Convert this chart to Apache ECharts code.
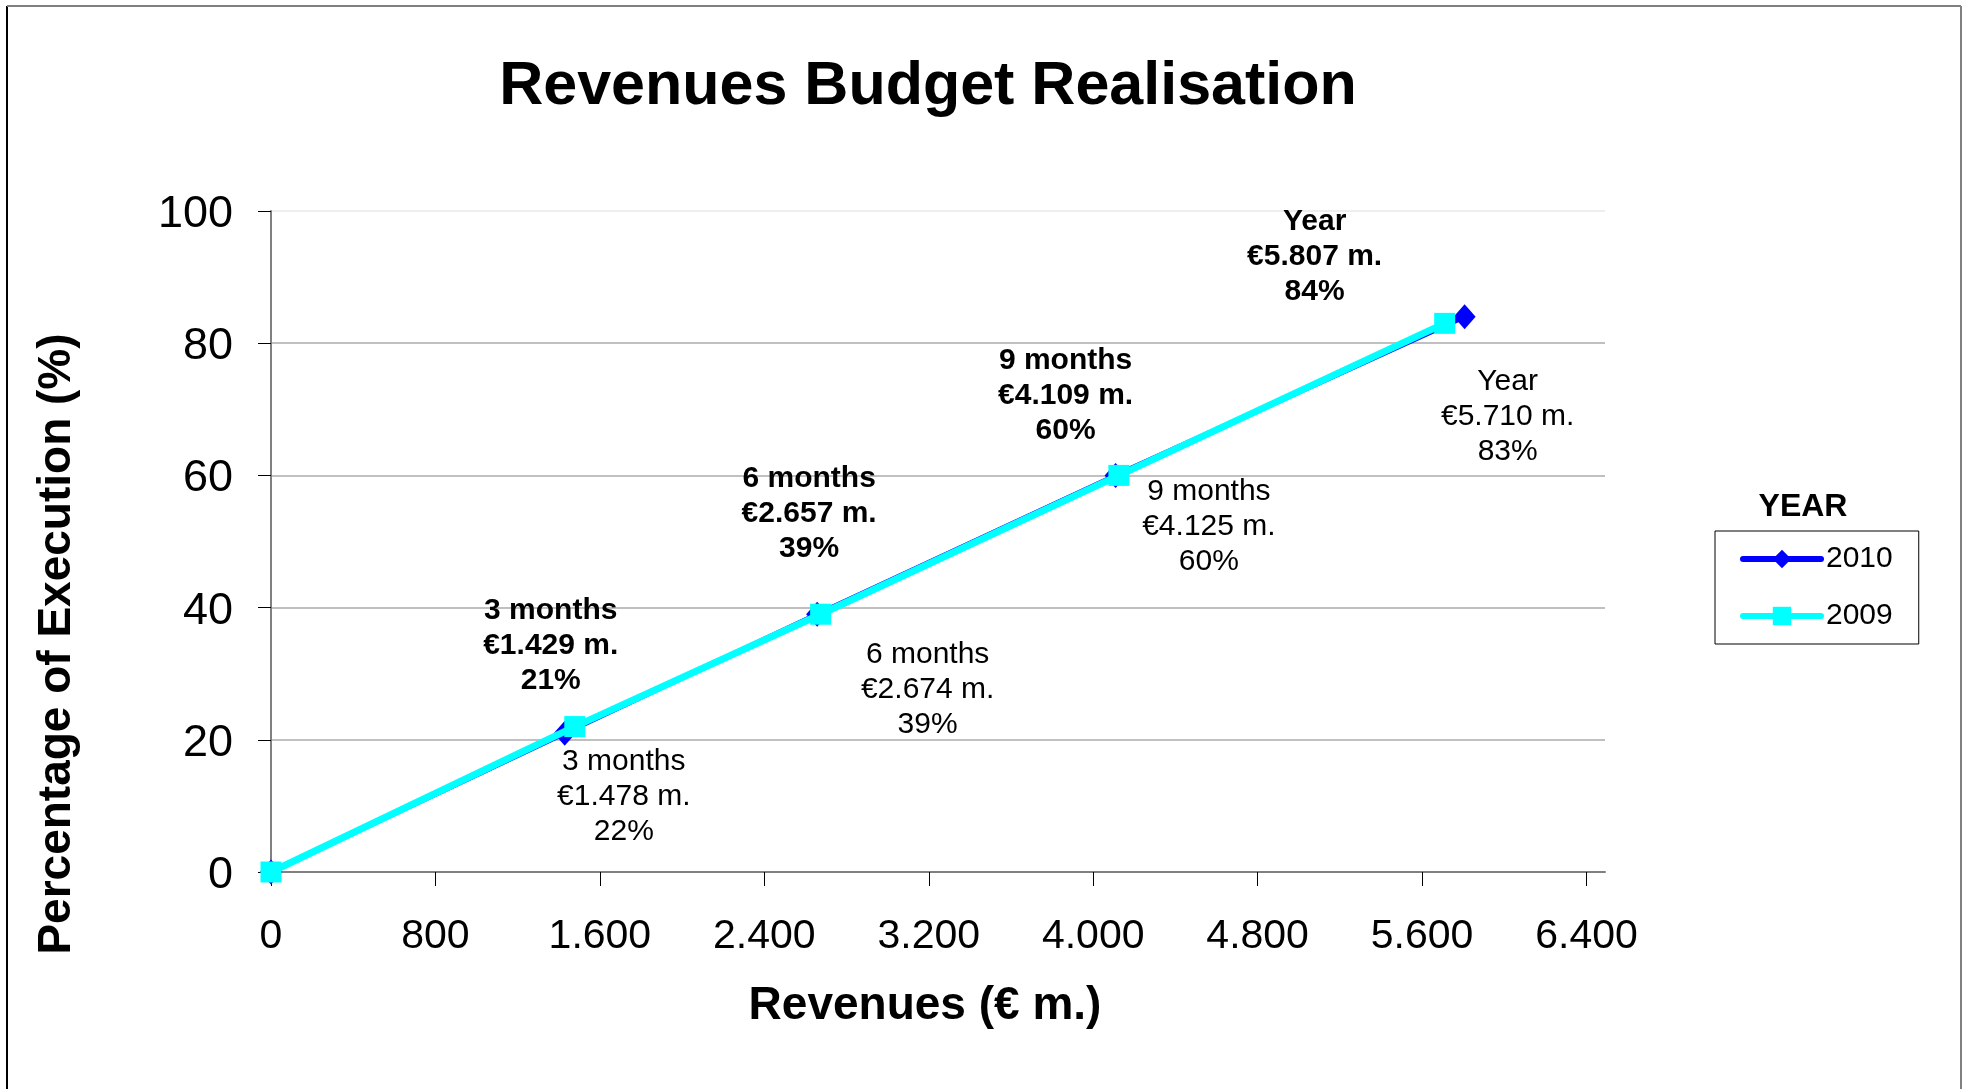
<!DOCTYPE html>
<html>
<head>
<meta charset="utf-8">
<title>Revenues Budget Realisation</title>
<script src="https://cdn.jsdelivr.net/npm/echarts@6/dist/echarts.min.js"></script>
<style>
  html, body { margin: 0; padding: 0; background: #fff; }
  #chart { width: 1965px; height: 1089px; }
</style>
</head>
<body>
<div id="chart"></div>
<script>
  // data
  const periods = ['', '3 months', '6 months', '9 months', 'Year'];
  const revenues2010 = [0, 1429, 2657, 4109, 5807];
  const percent2010 = [0, 21, 39, 60, 84];
  const revenues2009 = [0, 1478, 2674, 4125, 5710];
  const percent2009 = [0, 22, 39, 60, 83];
  const xTicks = [0, 800, 1600, 2400, 3200, 4000, 4800, 5600, 6400];
  const xTickLabels = ['0', '800', '1.600', '2.400', '3.200', '4.000', '4.800', '5.600', '6.400'];

  // where each label block sits relative to its point (px)
  const labelShift2010 = [[0, 0], [-14, -87], [-8, -100], [-50, -80], [-150, -60]];
  const labelShift2009 = [[0, 0], [49, 70], [107, 76], [90, 51], [63, 93]];

  const FONT = "'Liberation Sans', Arial, sans-serif";

  function seriesData(xs, ys, shifts) {
    return xs.map(function (x, i) {
      return { value: [x, ys[i]], label: { offset: shifts[i] } };
    });
  }

  function pointLabel(p) {
    const name = periods[p.dataIndex];
    if (!name) return '';
    return name + '\n€' + (p.value[0] / 1000).toFixed(3) + ' m.\n' + p.value[1] + '%';
  }

  const chart = echarts.init(document.getElementById('chart'));

  const option = {
    animation: false,
    backgroundColor: '#fff',
    textStyle: { fontFamily: FONT },
    grid: { left: 271, right: 360, top: 211, bottom: 217 },
    legend: {
      orient: 'vertical',
      left: 1715,
      top: 531,
      padding: [13, 26, 13, 25],
      itemGap: 27,
      itemWidth: 78,
      itemHeight: 23,
      borderColor: '#000',
      borderWidth: 1,
      data: ['2010', '2009'],
      lineStyle: { width: 6, cap: 'round' },
      textStyle: { fontFamily: FONT, fontSize: 30, lineHeight: 30, color: '#000' }
    },
    xAxis: {
      type: 'value',
      min: 0,
      max: 6490,
      name: 'Revenues (€ m.)',
      nameLocation: 'middle',
      nameGap: 111,
      nameTextStyle: { fontFamily: FONT, fontSize: 46, fontWeight: 'bold', color: '#000', padding: [0, 26, 0, 0] },
      axisLine: { lineStyle: { color: '#808080', width: 2 } },
      axisTick: { show: true, customValues: xTicks, length: 14, lineStyle: { color: '#000', width: 1 } },
      axisLabel: {
        customValues: xTicks,
        margin: 44,
        fontSize: 41,
        color: '#000',
        formatter: function (v) { return xTickLabels[xTicks.indexOf(v)]; }
      },
      splitLine: { show: false }
    },
    yAxis: {
      type: 'value',
      min: 0,
      max: 100,
      interval: 20,
      axisLine: { show: true, lineStyle: { color: '#808080', width: 2 } },
      axisTick: { show: true, length: 13, lineStyle: { color: '#000', width: 1 } },
      axisLabel: { margin: 38, fontSize: 45, color: '#000', verticalAlign: 'top', lineHeight: 7 },
      splitLine: {
        show: true,
        lineStyle: { color: ['#c0c0c0', '#c0c0c0', '#c0c0c0', '#c0c0c0', '#c0c0c0', '#eeeeee'], width: 2 }
      }
    },
    series: [
      {
        name: '2010',
        type: 'line',
        data: seriesData(revenues2010, percent2010, labelShift2010),
        symbol: 'diamond',
        symbolSize: [22, 25],
        color: '#0000ff',
        lineStyle: { color: '#0000ff', width: 5 },
        itemStyle: { color: '#0000ff' },
        label: {
          show: true,
          position: 'inside',
          align: 'center',
          verticalAlign: 'middle',
          fontFamily: FONT,
          fontSize: 30,
          lineHeight: 35,
          fontWeight: 'bold',
          color: '#000',
          formatter: pointLabel
        },
        emphasis: { disabled: true },
        z: 2
      },
      {
        name: '2009',
        type: 'line',
        data: seriesData(revenues2009, percent2009, labelShift2009),
        symbol: 'rect',
        symbolSize: 21,
        color: '#00ffff',
        lineStyle: { color: '#00ffff', width: 7 },
        itemStyle: { color: '#00ffff' },
        label: {
          show: true,
          position: 'inside',
          align: 'center',
          verticalAlign: 'middle',
          fontFamily: FONT,
          fontSize: 30,
          lineHeight: 35,
          color: '#000',
          formatter: pointLabel
        },
        emphasis: { disabled: true },
        z: 3
      }
    ],
    graphic: [
      { type: 'line', shape: { x1: 7, y1: 6, x2: 7, y2: 1089 }, style: { stroke: '#000', lineWidth: 2 }, z: -1 },
      { type: 'line', shape: { x1: 7, y1: 6, x2: 1961, y2: 6 }, style: { stroke: '#808080', lineWidth: 2 }, z: -1 },
      { type: 'line', shape: { x1: 1961, y1: 6, x2: 1961, y2: 1089 }, style: { stroke: '#808080', lineWidth: 2 }, z: -1 },
      {
        type: 'text', x: 928, y: 87,
        style: {
          text: 'Revenues Budget Realisation', fill: '#000',
          font: 'bold 61px ' + FONT,
          align: 'center', verticalAlign: 'middle', textAlign: 'center', textVerticalAlign: 'middle'
        }
      },
      {
        type: 'text', x: 57, y: 644, rotation: Math.PI / 2,
        style: {
          text: 'Percentage of Execution (%)', fill: '#000',
          font: 'bold 46px ' + FONT,
          align: 'center', verticalAlign: 'middle', textAlign: 'center', textVerticalAlign: 'middle'
        }
      },
      {
        type: 'text', x: 1803, y: 507,
        style: {
          text: 'YEAR', fill: '#000',
          font: 'bold 32px ' + FONT,
          align: 'center', verticalAlign: 'middle', textAlign: 'center', textVerticalAlign: 'middle'
        }
      }
    ]
  };

  chart.setOption(option);
</script>
</body>
</html>
